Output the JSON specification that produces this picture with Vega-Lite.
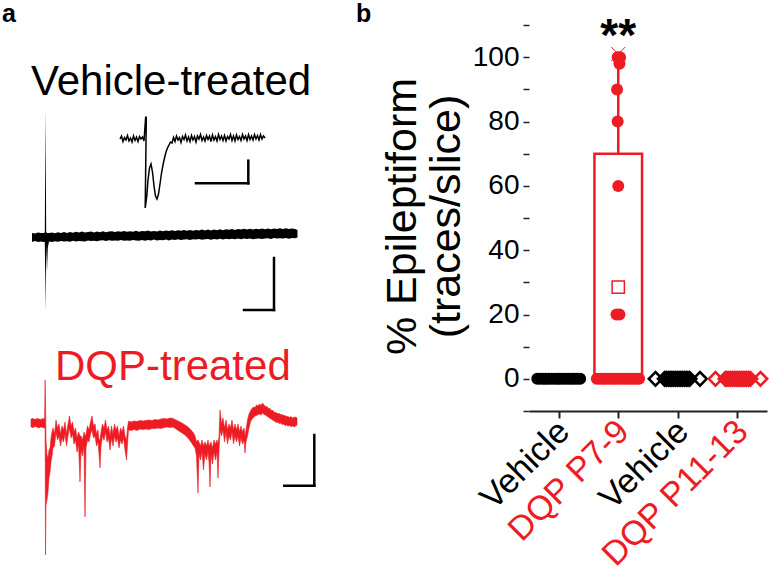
{
  "$schema": "https://vega.github.io/schema/vega-lite/v6.json",
  "background": "white",
  "padding": 0,
  "spacing": 9,
  "config": {"view": {"stroke": null}, "font": "Liberation Sans", "axis": {"grid": false}},
  "datasets": {
    "vehicle": [
      {"t":32,"v":233,"v2":242},{"t":35,"v":233.5,"v2":241},{"t":38,"v":232.5,"v2":242},{"t":41,"v":233,"v2":241.5},{"t":43.5,"v":233,"v2":242},
      {"t":44.8,"v":232.5,"v2":242},{"t":45.5,"v":110,"v2":311},{"t":46.2,"v":232,"v2":245},{"t":47,"v":233,"v2":272},{"t":47.8,"v":233,"v2":248},
      {"t":49,"v":233,"v2":241.5},{"t":52,"v":232.4,"v2":242},{"t":55,"v":233.3,"v2":241.2},{"t":58,"v":232.2,"v2":241.8},{"t":61,"v":233,"v2":240.9},
      {"t":64,"v":232,"v2":241.6},{"t":67,"v":232.9,"v2":241.3},{"t":70,"v":231.9,"v2":241.7},{"t":73,"v":232.8,"v2":240.8},{"t":76,"v":231.8,"v2":241.6},
      {"t":79,"v":232.5,"v2":240.9},{"t":82,"v":231.6,"v2":241.2},{"t":85,"v":232.6,"v2":241.6},{"t":88,"v":232,"v2":240.4},{"t":91,"v":231.5,"v2":241.1},
      {"t":94,"v":232.5,"v2":240.8},{"t":97,"v":231.6,"v2":241.2},{"t":100,"v":232.2,"v2":240.6},{"t":103,"v":231.3,"v2":240.3},{"t":106,"v":232.3,"v2":241.1},
      {"t":109,"v":231.6,"v2":240.3},{"t":112,"v":231.2,"v2":240.7},{"t":115,"v":232.1,"v2":240.4},{"t":118,"v":231.2,"v2":240.8},{"t":121,"v":231.8,"v2":240},
      {"t":124,"v":230.9,"v2":240.8},{"t":127,"v":231.8,"v2":240.4},{"t":130,"v":231.2,"v2":240.8},{"t":133,"v":231.7,"v2":239.9},{"t":136,"v":230.8,"v2":240.4},
      {"t":139,"v":231.7,"v2":240.7},{"t":142,"v":230.9,"v2":239.9},{"t":145,"v":231.3,"v2":240.7},{"t":148,"v":230.5,"v2":239.9},{"t":151,"v":231.4,"v2":240.4},
      {"t":154,"v":230.9,"v2":239.6},{"t":157,"v":231.4,"v2":240.4},{"t":160,"v":230.5,"v2":240},{"t":163,"v":231.3,"v2":240.3},{"t":166,"v":230.5,"v2":239.6},
      {"t":169,"v":231,"v2":240.4},{"t":172,"v":230.2,"v2":239.6},{"t":175,"v":231,"v2":240},{"t":178,"v":230.2,"v2":239.3},{"t":181,"v":230.7,"v2":240},
      {"t":184,"v":229.9,"v2":239.6},{"t":187,"v":230.8,"v2":239.3},{"t":190,"v":229.9,"v2":240},{"t":193,"v":230.7,"v2":239.3},{"t":196,"v":229.9,"v2":239.6},
      {"t":199,"v":230.4,"v2":239},{"t":202,"v":229.6,"v2":239.7},{"t":205,"v":230.5,"v2":239.3},{"t":208,"v":229.6,"v2":239},{"t":211,"v":230.4,"v2":239.7},
      {"t":214,"v":229.4,"v2":239},{"t":217,"v":230.2,"v2":239.4},{"t":220,"v":229.3,"v2":238.8},{"t":223,"v":230.2,"v2":239.5},{"t":226,"v":229.3,"v2":238.7},
      {"t":229,"v":229.8,"v2":239.2},{"t":232,"v":229,"v2":238.8},{"t":235,"v":229.9,"v2":239.2},{"t":238,"v":229,"v2":238.6},{"t":241,"v":229.6,"v2":239.3},
      {"t":244,"v":228.8,"v2":238.6},{"t":247,"v":229.6,"v2":239},{"t":250,"v":228.7,"v2":238.4},{"t":253,"v":229.6,"v2":239.2},{"t":256,"v":228.7,"v2":238.8},
      {"t":259,"v":229.2,"v2":238.4},{"t":262,"v":228.5,"v2":238.9},{"t":265,"v":229.3,"v2":238.5},{"t":268,"v":228.5,"v2":238.2},{"t":271,"v":229.3,"v2":238.9},
      {"t":274,"v":228.4,"v2":238.1},{"t":277,"v":229,"v2":238.6},{"t":280,"v":228.2,"v2":238.2},{"t":283,"v":229,"v2":238.6},{"t":286,"v":228.2,"v2":237.9},
      {"t":289,"v":229,"v2":238.7},{"t":292,"v":228.4,"v2":237.9},{"t":295,"v":229,"v2":238.3},{"t":297.5,"v":230,"v2":237.5}
    ],
    "inset": [
      {"t":120,"v":139},{"t":121.5,"v":136},{"t":123,"v":141.5},{"t":124.5,"v":137.5},{"t":126,"v":140},{"t":127.5,"v":135.5},{"t":129,"v":141},{"t":130.5,"v":138},
      {"t":132,"v":142},{"t":133.5,"v":136},{"t":135,"v":140.5},{"t":136.5,"v":137},{"t":138,"v":141.5},{"t":139.5,"v":136.5},{"t":141,"v":139},{"t":142.5,"v":137},{"t":144,"v":141},
      {"t":145.7,"v":116.5},{"t":146.3,"v":118},{"t":145.2,"v":208},{"t":146.8,"v":196},{"t":148,"v":180},{"t":149.5,"v":168},{"t":151,"v":164},
      {"t":152.5,"v":172},{"t":154,"v":186},{"t":155.5,"v":196},{"t":157,"v":199},{"t":158.5,"v":194},{"t":160,"v":184},{"t":161.5,"v":173},{"t":163,"v":165},
      {"t":164.5,"v":158},{"t":166,"v":152},{"t":167.5,"v":148},{"t":169,"v":145},{"t":170.5,"v":142},{"t":172,"v":143},
      {"t":173.5,"v":137.5},{"t":175,"v":141.5},{"t":176.5,"v":136},{"t":178,"v":140},{"t":179.5,"v":137.5},{"t":181,"v":142.5},{"t":182.5,"v":136.5},{"t":184,"v":139.5},
      {"t":185.5,"v":135},{"t":187,"v":141},{"t":188.5,"v":137},{"t":190,"v":141.5},{"t":191.5,"v":135.5},{"t":193,"v":140},{"t":194.5,"v":136.5},{"t":196,"v":142},
      {"t":197.5,"v":136},{"t":199,"v":139},{"t":200.5,"v":134.5},{"t":202,"v":140.5},{"t":203.5,"v":137},{"t":205,"v":141},{"t":206.5,"v":135.5},{"t":208,"v":139.5},
      {"t":209.5,"v":136},{"t":211,"v":141.5},{"t":212.5,"v":135},{"t":214,"v":140},{"t":215.5,"v":136.5},{"t":217,"v":141},{"t":218.5,"v":134.5},{"t":220,"v":139.5},
      {"t":221.5,"v":136},{"t":223,"v":140.5},{"t":224.5,"v":135.5},{"t":226,"v":141},{"t":227.5,"v":136.5},{"t":229,"v":139},{"t":230.5,"v":134.5},{"t":232,"v":140.5},
      {"t":233.5,"v":136},{"t":235,"v":141},{"t":236.5,"v":135},{"t":238,"v":139.5},{"t":239.5,"v":136.5},{"t":241,"v":140.5},{"t":242.5,"v":134.5},{"t":244,"v":139},
      {"t":245.5,"v":136},{"t":247,"v":140.5},{"t":248.5,"v":134.5},{"t":250,"v":139.5},{"t":251.5,"v":136},{"t":253,"v":140},{"t":254.5,"v":134.5},{"t":256,"v":139},
      {"t":257.5,"v":135.5},{"t":259,"v":140},{"t":260.5,"v":134.5},{"t":262,"v":139},{"t":263.5,"v":136},{"t":265,"v":138}
    ],
    "dqp": [
      {"t":31,"v":419,"v2":427},{"t":33,"v":418.5,"v2":427.5},{"t":35,"v":419.5,"v2":426.5},{"t":37,"v":418.5,"v2":427},{"t":39,"v":419,"v2":428},
      {"t":41,"v":419.5,"v2":427},{"t":43,"v":418.5,"v2":427.5},{"t":44.6,"v":419,"v2":428},{"t":45.1,"v":380,"v2":428},{"t":45.5,"v":400,"v2":555},
      {"t":46,"v":440,"v2":505},{"t":47,"v":455,"v2":500},{"t":48,"v":458,"v2":492},{"t":49,"v":450,"v2":478},{"t":50,"v":448,"v2":472},
      {"t":51,"v":438,"v2":462},{"t":52,"v":432,"v2":456},{"t":53,"v":428,"v2":448},{"t":54.5,"v":434,"v2":446},{"t":56,"v":420,"v2":432},
      {"t":57.5,"v":428,"v2":440},{"t":59,"v":424,"v2":436},{"t":60.5,"v":434,"v2":446},{"t":62,"v":426,"v2":438},{"t":63.5,"v":430,"v2":442},
      {"t":65,"v":422,"v2":434},{"t":66.5,"v":434,"v2":446},{"t":68,"v":424,"v2":436},{"t":69.5,"v":416,"v2":428},{"t":71,"v":426,"v2":438},
      {"t":72.5,"v":422,"v2":434},{"t":74,"v":432,"v2":444},{"t":75.5,"v":428,"v2":440},{"t":77,"v":438,"v2":452},{"t":78.5,"v":432,"v2":444},
      {"t":80,"v":436,"v2":482},{"t":81,"v":436,"v2":450},{"t":82.5,"v":440,"v2":456},{"t":84,"v":432,"v2":446},{"t":85,"v":436,"v2":517},
      {"t":86,"v":434,"v2":448},{"t":87.5,"v":426,"v2":440},{"t":89,"v":430,"v2":442},{"t":90.5,"v":422,"v2":434},{"t":92,"v":416,"v2":430},
      {"t":93.5,"v":426,"v2":438},{"t":95,"v":424,"v2":436},{"t":96.5,"v":434,"v2":446},{"t":98,"v":430,"v2":442},{"t":99,"v":440,"v2":454},
      {"t":100,"v":440,"v2":468},{"t":101,"v":432,"v2":446},{"t":102.5,"v":424,"v2":436},{"t":104,"v":428,"v2":440},{"t":105.5,"v":420,"v2":432},
      {"t":107,"v":430,"v2":442},{"t":108.5,"v":426,"v2":438},{"t":110,"v":436,"v2":450},{"t":111.5,"v":426,"v2":438},{"t":113,"v":434,"v2":446},
      {"t":114.5,"v":424,"v2":436},{"t":116,"v":430,"v2":442},{"t":117.5,"v":426,"v2":438},{"t":119,"v":436,"v2":448},{"t":120.5,"v":428,"v2":440},
      {"t":122,"v":432,"v2":444},{"t":123.5,"v":426,"v2":438},{"t":125,"v":436,"v2":450},{"t":126.5,"v":440,"v2":460},{"t":127.5,"v":428,"v2":444},
      {"t":128.5,"v":421,"v2":430},{"t":131,"v":422,"v2":430.5},{"t":134,"v":421,"v2":429.5},{"t":137,"v":421.5,"v2":430.5},{"t":140,"v":420.5,"v2":429},
      {"t":143,"v":421,"v2":429.5},{"t":146,"v":420.5,"v2":429},{"t":149,"v":420,"v2":429.5},{"t":152,"v":420.5,"v2":428.5},{"t":155,"v":419.5,"v2":428.5},
      {"t":158,"v":420,"v2":428},{"t":161,"v":419,"v2":428.5},{"t":164,"v":418.5,"v2":427.5},{"t":167,"v":419,"v2":427},{"t":170,"v":418,"v2":427.5},
      {"t":173,"v":418.5,"v2":427},{"t":176,"v":420,"v2":429},{"t":179,"v":421.5,"v2":431},{"t":182,"v":423,"v2":433},{"t":185,"v":425,"v2":435},
      {"t":188,"v":427,"v2":438},{"t":191,"v":430,"v2":442},{"t":193.5,"v":433,"v2":446},{"t":195,"v":436,"v2":448},{"t":196.5,"v":442,"v2":456},
      {"t":198,"v":440,"v2":493},{"t":199,"v":442,"v2":454},{"t":200.5,"v":446,"v2":460},{"t":202,"v":440,"v2":452},{"t":203.5,"v":446,"v2":470},
      {"t":205,"v":442,"v2":454},{"t":206.5,"v":446,"v2":460},{"t":208,"v":440,"v2":452},{"t":209,"v":446,"v2":462},{"t":210,"v":444,"v2":487},
      {"t":211,"v":442,"v2":454},{"t":212.5,"v":448,"v2":464},{"t":214,"v":440,"v2":452},{"t":215.5,"v":444,"v2":460},{"t":217,"v":440,"v2":452},
      {"t":218,"v":444,"v2":478},{"t":219,"v":436,"v2":452},{"t":220,"v":410,"v2":430},{"t":221.5,"v":424,"v2":436},{"t":223,"v":418,"v2":430},
      {"t":224.5,"v":428,"v2":442},{"t":226,"v":420,"v2":432},{"t":227.5,"v":430,"v2":444},{"t":229,"v":424,"v2":436},{"t":230.5,"v":428,"v2":440},
      {"t":232,"v":420,"v2":432},{"t":233.5,"v":430,"v2":444},{"t":235,"v":424,"v2":436},{"t":236.5,"v":430,"v2":442},{"t":238,"v":424,"v2":436},
      {"t":239.5,"v":432,"v2":446},{"t":241,"v":426,"v2":438},{"t":242.5,"v":432,"v2":444},{"t":244,"v":428,"v2":440},{"t":245,"v":436,"v2":453},
      {"t":246,"v":430,"v2":442},{"t":247.5,"v":420,"v2":436},{"t":249,"v":414,"v2":428},{"t":250.5,"v":411,"v2":422},{"t":252,"v":408.5,"v2":419},
      {"t":253.5,"v":407,"v2":417.5},{"t":255,"v":407.5,"v2":416},{"t":256.5,"v":405,"v2":415.5},{"t":258,"v":406,"v2":414.5},{"t":259.5,"v":404,"v2":414},
      {"t":261,"v":405.5,"v2":415},{"t":262.5,"v":403,"v2":413},{"t":264,"v":405,"v2":414.5},{"t":265.5,"v":406.5,"v2":415},{"t":267,"v":406.5,"v2":416.5},
      {"t":268.5,"v":408.5,"v2":417},{"t":270,"v":408.5,"v2":418.5},{"t":271.5,"v":410.5,"v2":419},{"t":273,"v":410.5,"v2":420.5},{"t":274.5,"v":412.5,"v2":421},
      {"t":276,"v":412.5,"v2":422.5},{"t":277.5,"v":413.5,"v2":422},{"t":279,"v":413.5,"v2":423.5},{"t":280.5,"v":414.5,"v2":423},{"t":282,"v":414.5,"v2":424.5},
      {"t":283.5,"v":415.5,"v2":424},{"t":285,"v":415.5,"v2":425.5},{"t":286.5,"v":416.5,"v2":425},{"t":288,"v":416.5,"v2":426},{"t":289.5,"v":417.5,"v2":425.5},
      {"t":291,"v":416.5,"v2":426.5},{"t":292.5,"v":418,"v2":426},{"t":294,"v":417.5,"v2":427},{"t":295.5,"v":417,"v2":426},{"t":297,"v":418,"v2":425}
    ],
    "scalebars": [
      {"t":196,"v":183.3,"t2":248.3,"v2":183.3},
      {"t":248.3,"v":160.7,"t2":248.3,"v2":183.3},
      {"t":244,"v":310,"t2":274,"v2":310},
      {"t":274,"v":258,"t2":274,"v2":310},
      {"t":284.3,"v":485.7,"t2":314.3,"v2":485.7},
      {"t":314.3,"v":435,"t2":314.3,"v2":485.7}
    ],
    "pts": [
      {"treatment":"Vehicle","age":"P7-9","pos":0.14,"pct":0},{"treatment":"Vehicle","age":"P7-9","pos":0.19,"pct":0},
      {"treatment":"Vehicle","age":"P7-9","pos":0.24,"pct":0},{"treatment":"Vehicle","age":"P7-9","pos":0.28,"pct":0},
      {"treatment":"Vehicle","age":"P7-9","pos":0.33,"pct":0},{"treatment":"Vehicle","age":"P7-9","pos":0.38,"pct":0},
      {"treatment":"Vehicle","age":"P7-9","pos":0.43,"pct":0},{"treatment":"Vehicle","age":"P7-9","pos":0.48,"pct":0},
      {"treatment":"Vehicle","age":"P7-9","pos":0.52,"pct":0},{"treatment":"Vehicle","age":"P7-9","pos":0.57,"pct":0},
      {"treatment":"Vehicle","age":"P7-9","pos":0.62,"pct":0},{"treatment":"Vehicle","age":"P7-9","pos":0.67,"pct":0},
      {"treatment":"Vehicle","age":"P7-9","pos":0.72,"pct":0},{"treatment":"Vehicle","age":"P7-9","pos":0.76,"pct":0},
      {"treatment":"Vehicle","age":"P7-9","pos":0.81,"pct":0},{"treatment":"Vehicle","age":"P7-9","pos":0.86,"pct":0},
      {"treatment":"DQP","age":"P7-9","pos":1.14,"pct":0},{"treatment":"DQP","age":"P7-9","pos":1.19,"pct":0},
      {"treatment":"DQP","age":"P7-9","pos":1.24,"pct":0},{"treatment":"DQP","age":"P7-9","pos":1.28,"pct":0},
      {"treatment":"DQP","age":"P7-9","pos":1.33,"pct":0},{"treatment":"DQP","age":"P7-9","pos":1.38,"pct":0},
      {"treatment":"DQP","age":"P7-9","pos":1.43,"pct":0},{"treatment":"DQP","age":"P7-9","pos":1.47,"pct":0},
      {"treatment":"DQP","age":"P7-9","pos":1.52,"pct":0},{"treatment":"DQP","age":"P7-9","pos":1.57,"pct":0},
      {"treatment":"DQP","age":"P7-9","pos":1.62,"pct":0},{"treatment":"DQP","age":"P7-9","pos":1.66,"pct":0},
      {"treatment":"DQP","age":"P7-9","pos":1.71,"pct":0},{"treatment":"DQP","age":"P7-9","pos":1.76,"pct":0},
      {"treatment":"DQP","age":"P7-9","pos":1.8,"pct":0},{"treatment":"DQP","age":"P7-9","pos":1.85,"pct":0},
      {"treatment":"DQP","age":"P7-9","pos":1.47,"pct":20},{"treatment":"DQP","age":"P7-9","pos":1.52,"pct":20},
      {"treatment":"DQP","age":"P7-9","pos":1.5,"pct":60},{"treatment":"DQP","age":"P7-9","pos":1.49,"pct":80},
      {"treatment":"DQP","age":"P7-9","pos":1.48,"pct":90},{"treatment":"DQP","age":"P7-9","pos":1.52,"pct":98},
      {"treatment":"DQP","age":"P7-9","pos":1.49,"pct":100},{"treatment":"DQP","age":"P7-9","pos":1.53,"pct":100},
      {"treatment":"Vehicle","age":"P11-13","pos":2.126,"pct":0},
      {"treatment":"Vehicle","age":"P11-13","pos":2.28,"pct":0},{"treatment":"Vehicle","age":"P11-13","pos":2.31,"pct":0},
      {"treatment":"Vehicle","age":"P11-13","pos":2.34,"pct":0},{"treatment":"Vehicle","age":"P11-13","pos":2.37,"pct":0},
      {"treatment":"Vehicle","age":"P11-13","pos":2.4,"pct":0},{"treatment":"Vehicle","age":"P11-13","pos":2.43,"pct":0},
      {"treatment":"Vehicle","age":"P11-13","pos":2.46,"pct":0},{"treatment":"Vehicle","age":"P11-13","pos":2.49,"pct":0},
      {"treatment":"Vehicle","age":"P11-13","pos":2.52,"pct":0},{"treatment":"Vehicle","age":"P11-13","pos":2.55,"pct":0},
      {"treatment":"Vehicle","age":"P11-13","pos":2.58,"pct":0},{"treatment":"Vehicle","age":"P11-13","pos":2.61,"pct":0},
      {"treatment":"Vehicle","age":"P11-13","pos":2.64,"pct":0},{"treatment":"Vehicle","age":"P11-13","pos":2.67,"pct":0},
      {"treatment":"Vehicle","age":"P11-13","pos":2.7,"pct":0},
      {"treatment":"Vehicle","age":"P11-13","pos":2.874,"pct":0},
      {"treatment":"DQP","age":"P11-13","pos":3.134,"pct":0},
      {"treatment":"DQP","age":"P11-13","pos":3.3,"pct":0},{"treatment":"DQP","age":"P11-13","pos":3.33,"pct":0},
      {"treatment":"DQP","age":"P11-13","pos":3.36,"pct":0},{"treatment":"DQP","age":"P11-13","pos":3.39,"pct":0},
      {"treatment":"DQP","age":"P11-13","pos":3.42,"pct":0},{"treatment":"DQP","age":"P11-13","pos":3.45,"pct":0},
      {"treatment":"DQP","age":"P11-13","pos":3.48,"pct":0},{"treatment":"DQP","age":"P11-13","pos":3.51,"pct":0},
      {"treatment":"DQP","age":"P11-13","pos":3.54,"pct":0},{"treatment":"DQP","age":"P11-13","pos":3.57,"pct":0},
      {"treatment":"DQP","age":"P11-13","pos":3.6,"pct":0},{"treatment":"DQP","age":"P11-13","pos":3.63,"pct":0},
      {"treatment":"DQP","age":"P11-13","pos":3.66,"pct":0},{"treatment":"DQP","age":"P11-13","pos":3.69,"pct":0},
      {"treatment":"DQP","age":"P11-13","pos":3.72,"pct":0},
      {"treatment":"DQP","age":"P11-13","pos":3.89,"pct":0}
    ]
  },
  "hconcat": [
    {
      "width": 370,
      "height": 575,
      "encoding": {
        "x": {"field": "t", "type": "quantitative", "scale": {"domain": [0, 370], "nice": false, "zero": false}, "axis": null},
        "y": {"field": "v", "type": "quantitative", "scale": {"domain": [0, 575], "nice": false, "zero": false, "reverse": true}, "axis": null}
      },
      "layer": [
        {"data": {"name": "vehicle"}, "mark": {"type": "area", "color": "black", "opacity": 1},
         "encoding": {"y2": {"field": "v2"}}},
        {"data": {"name": "inset"}, "mark": {"type": "line", "color": "black", "strokeWidth": 1.5}, "encoding": {"order": {"value": null}}},
        {"data": {"name": "dqp"}, "mark": {"type": "area", "color": "#ed1c24", "opacity": 1, "strokeWidth": 0.6, "stroke": "#ed1c24"},
         "encoding": {"y2": {"field": "v2"}}},
        {"data": {"name": "scalebars"}, "mark": {"type": "rule", "color": "black", "strokeWidth": 2.5, "strokeCap": "square"},
         "encoding": {"x2": {"field": "t2"}, "y2": {"field": "v2"}}},
        {"data": {"values": [{"t": 2, "v": 22, "label": "a"}]}, "mark": {"type": "text", "fontSize": 25, "fontWeight": "bold", "align": "left", "baseline": "alphabetic", "color": "black"}, "encoding": {"text": {"field": "label"}}},
        {"data": {"values": [{"t": 356, "v": 22, "label": "b"}]}, "mark": {"type": "text", "fontSize": 25, "fontWeight": "bold", "align": "left", "baseline": "alphabetic", "color": "black"}, "encoding": {"text": {"field": "label"}}},
        {"data": {"values": [{"t": 31, "v": 95, "label": "Vehicle-treated"}]}, "mark": {"type": "text", "fontSize": 42, "align": "left", "baseline": "alphabetic", "color": "black"}, "encoding": {"text": {"field": "label"}}},
        {"data": {"values": [{"t": 55, "v": 380, "label": "DQP-treated"}]}, "mark": {"type": "text", "fontSize": 42, "align": "left", "baseline": "alphabetic", "color": "#ed1c24"}, "encoding": {"text": {"field": "label"}}}
      ]
    },
    {
      "width": 238,
      "height": 411,
      "encoding": {
        "x": {"field": "pos", "type": "quantitative",
              "scale": {"domain": [0, 4], "nice": false, "zero": false},
              "axis": {"values": [0.5, 1.5, 2.5, 3.5], "title": null,
                       "labelExpr": "['Vehicle','DQP P7-9','Vehicle','DQP P11-13'][floor(datum.value)]",
                       "labelAngle": -45, "labelAlign": "right", "labelBaseline": "middle", "labelFontSize": 34, "labelLimit": 400,
                       "labelColor": {"condition": {"test": "floor(datum.value) % 2 == 1", "value": "#ed1c24"}, "value": "black"},
                       "labelPadding": 8, "labelOffset": 5, "labelFlush": false, "labelOverlap": false,
                       "tickSize": 7, "tickWidth": 2, "tickColor": "#222", "domainWidth": 2, "domainColor": "#222"}},
        "y": {"field": "pct", "type": "quantitative",
              "scale": {"domain": [-10, 117.8], "nice": false, "zero": false},
              "axis": {"values": [-10, 0, 10, 20, 30, 40, 50, 60, 70, 80, 90, 100, 110],
                       "labelExpr": "(datum.value % 20 == 0 && datum.value >= 0 && datum.value <= 100) ? datum.label : ''",
                       "domain": false, "tickSize": 6, "tickWidth": 1.5, "tickColor": "#222",
                       "labelFontSize": 28, "labelColor": "black", "labelPadding": 4, "labelFlush": false, "labelOverlap": false,
                       "title": ["% Epileptiform", "(traces/slice)"], "titleFontSize": 43, "titleFontWeight": "normal",
                       "titleColor": "black", "titlePadding": 4, "titleLineHeight": 44, "titleY": 216}}
      },
      "layer": [
        {"data": {"values": [{}]}, "mark": {"type": "rule", "color": "#222", "strokeWidth": 2},
         "encoding": {"x": {"datum": 0}, "y": {"datum": -10}, "y2": {"datum": 110}}},
        {"data": {"values": [{"treatment": "DQP", "age": "P7-9", "pos": 1.1, "pos2": 1.9, "pct": 0, "pct2": 70}]},
         "mark": {"type": "bar", "fill": "white", "stroke": "#ed1c24", "strokeWidth": 2.5},
         "encoding": {"x2": {"field": "pos2"}, "y2": {"field": "pct2"}}},
        {"data": {"values": [{"pos": 1.5, "pct": 70, "pct2": 100}]},
         "mark": {"type": "rule", "color": "#ed1c24", "strokeWidth": 2.5},
         "encoding": {"y2": {"field": "pct2"}}},
        {"data": {"values": [{"pos": 1.5, "pct": 101}]},
         "mark": {"type": "point", "shape": "M-1,-1L1,1M-1,1L1,-1", "size": 196, "filled": false, "stroke": "#ed1c24", "strokeWidth": 1, "opacity": 1}},
        {"data": {"name": "pts"}, "transform": [{"filter": "datum.age == 'P7-9'"}],
         "mark": {"type": "point", "shape": "circle", "filled": true, "size": 144, "opacity": 1},
         "encoding": {"color": {"field": "treatment", "type": "nominal", "scale": {"domain": ["Vehicle", "DQP"], "range": ["black", "#ed1c24"]}, "legend": null}}},
        {"data": {"name": "pts"}, "transform": [{"filter": "datum.age == 'P11-13'"}],
         "mark": {"type": "point", "shape": "diamond", "filled": false, "size": 180, "strokeWidth": 2.6, "opacity": 1},
         "encoding": {"color": {"field": "treatment", "type": "nominal", "scale": {"domain": ["Vehicle", "DQP"], "range": ["black", "#ed1c24"]}, "legend": null}}},
        {"data": {"values": [{"pos": 1.5, "pct": 28.5}]},
         "mark": {"type": "point", "shape": "square", "filled": false, "size": 150, "stroke": "#ed1c24", "strokeWidth": 1.5, "opacity": 1}},
        {"data": {"values": [{"pos": 1.5, "pct": 102, "label": "**"}]},
         "mark": {"type": "text", "fontSize": 46, "fontWeight": "bold", "baseline": "alphabetic", "align": "center", "color": "black"},
         "encoding": {"text": {"field": "label"}}}
      ]
    }
  ]
}
